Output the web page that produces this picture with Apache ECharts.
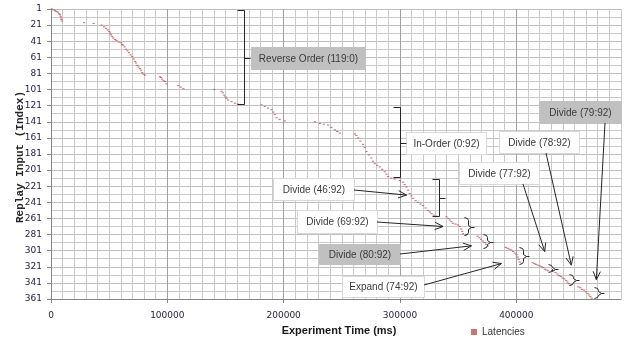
<!DOCTYPE html>
<html>
<head>
<meta charset="utf-8">
<script src="https://cdn.jsdelivr.net/npm/echarts@6/dist/echarts.min.js"></script>
<style>
  html, body { margin: 0; padding: 0; background: #ffffff; }
  #chart { width: 628px; height: 343px; }
</style>
</head>
<body>
<div id="chart"></div>
<script>
// Axis tick values
const xTickValues = [0, 100000, 200000, 300000, 400000];
const yTickValues = [1, 21, 41, 61, 81, 101, 121, 141, 161, 181, 201, 221, 241, 261, 281, 301, 321, 341, 361];

// Latency samples, [experiment time (ms), replay input index], grouped by phase
const segReverse = [
  [600, 1], [2100, 2], [3400, 3], [4600, 4], [5800, 5], [6900, 7], [7700, 8], [8200, 10], [8600, 12], [9000, 14], [9200, 16],
  [28400, 18], [36700, 19], [43500, 21], [45600, 23], [47200, 25], [48800, 27], [50100, 29], [50900, 31], [51500, 33],
  [52600, 35], [53500, 37], [55000, 39], [56400, 40], [58300, 42], [60100, 43], [61200, 45], [62100, 46], [63300, 48],
  [64400, 51], [65700, 53], [67000, 55], [68400, 58], [69900, 60], [71000, 63], [72200, 66], [73100, 68], [74100, 71],
  [75300, 73], [76500, 75], [77400, 77], [78400, 80], [79600, 82], [80800, 83],
  [93600, 85], [94500, 86], [95600, 88], [96800, 90], [97900, 91], [99100, 94],
  [109400, 96], [111600, 98], [113700, 100],
  [140300, 101], [146600, 103], [147700, 105], [148900, 108], [150000, 110], [150900, 112], [152300, 114],
  [155200, 116], [158100, 118], [160500, 119]
];
const segInOrder = [
  [181000, 120], [183800, 122], [186500, 124], [189600, 126], [191000, 129], [192400, 132], [193900, 136],
  [196500, 138], [201000, 140],
  [226800, 141], [231100, 143], [234600, 144], [238200, 145], [241000, 148], [244000, 151], [246000, 153], [248300, 155],
  [261200, 156], [262500, 158], [264000, 161], [266000, 165], [268300, 169], [269800, 173], [271200, 178],
  [273300, 182], [275400, 186], [276800, 190], [278300, 193], [280400, 195], [282600, 197], [284700, 200],
  [286900, 203], [288300, 206], [289800, 209], [292600, 211], [295500, 212]
];
const segDivide46 = [
  [299800, 214], [302700, 216], [304100, 219], [305500, 222], [307000, 226], [308400, 230], [309800, 233],
  [311300, 236], [313400, 239], [315600, 241], [317700, 243], [319900, 245], [322000, 248], [324100, 251],
  [325600, 253], [327100, 255], [329000, 257], [331000, 258]
];
const segDivide69 = [
  [340000, 259], [341500, 261], [342800, 263], [344200, 265], [345600, 267], [347700, 268], [349900, 269],
  [351400, 271], [352800, 274], [353500, 277], [354200, 280], [356500, 282]
];
const segDivide80 = [
  [366800, 283], [368300, 285], [369700, 287], [371200, 289], [372600, 291], [374000, 293], [375400, 295]
];
const segExpand74 = [
  [390900, 297], [392400, 298], [393900, 299], [395600, 300], [397200, 302], [398700, 304], [400200, 306],
  [401300, 309], [402000, 312], [402900, 315]
];
const segDivide77 = [
  [414000, 316], [415600, 317], [416900, 318], [418500, 319], [420200, 320], [421800, 321], [423200, 322],
  [424600, 324], [426000, 325], [427300, 326]
];
const segDivide78 = [
  [433700, 328], [435300, 330], [436700, 332], [438300, 333], [439700, 335], [441300, 336], [442900, 338],
  [444000, 340], [445100, 342], [446400, 344]
];
const segDivide79 = [
  [453300, 346], [455000, 347], [456500, 349], [458300, 350], [459800, 352], [461300, 354], [462500, 356],
  [463700, 358], [464800, 360]
];

// Phase brackets: time of the bracket spine and the index range it spans
const brackets = [
  { t: 166100, from: 2, to: 119, kind: 'square' },
  { t: 299800, from: 123, to: 210, kind: 'square' },
  { t: 333300, from: 212, to: 258, kind: 'square' },
  { t: 358800, from: 259, to: 282, kind: 'curly' },
  { t: 374900, from: 280, to: 298, kind: 'curly' },
  { t: 406000, from: 296, to: 317, kind: 'curly' },
  { t: 430700, from: 317, to: 328, kind: 'curly' },
  { t: 449000, from: 330, to: 344, kind: 'curly' },
  { t: 470500, from: 346, to: 360, kind: 'curly' }
];

// Phase callouts: box (pixels), arrow tail (pixels) and arrow tip (time, index)
const callouts = [
  { text: 'Reverse Order (119:0)', box: [251, 47, 114, 22], fill: '#c0c0c0' },
  { text: 'In-Order (0:92)', box: [406, 132, 80, 22], fill: '#ffffff' },
  { text: 'Divide (46:92)', box: [273, 178, 81, 22], fill: '#ffffff', tail: [354, 190], tip: [305600, 232] },
  { text: 'Divide (69:92)', box: [297, 210, 80, 23], fill: '#ffffff', tail: [377, 222], tip: [337000, 271] },
  { text: 'Divide (80:92)', box: [319, 244, 81, 20], fill: '#c0c0c0', tail: [400, 254], tip: [361400, 295] },
  { text: 'Expand (74:92)', box: [342, 276, 82, 21], fill: '#ffffff', tail: [424, 285], tip: [387200, 317] },
  { text: 'Divide (77:92)', box: [459, 162, 80, 22], fill: '#ffffff', tail: [523, 184], tip: [424400, 302] },
  { text: 'Divide (78:92)', box: [499, 131, 80, 22], fill: '#ffffff', tail: [546, 153], tip: [447300, 319] },
  { text: 'Divide (79:92)', box: [539, 101, 82, 22], fill: '#c0c0c0', tail: [605, 123], tip: [468800, 337] }
];

const allPoints = [].concat(segReverse, segInOrder, segDivide46, segDivide69, segDivide80,
  segExpand74, segDivide77, segDivide78, segDivide79);

const chart = echarts.init(document.getElementById('chart'), null, { renderer: 'canvas' });

const labelColor = '#1e1e3c';
const axisLineColor = '#868686';

chart.setOption({
  animation: false,
  backgroundColor: '#ffffff',
  grid: { left: 51, right: 7, top: 9, bottom: 44, containLabel: false },
  legend: {
    left: 471, top: 327, padding: 0,
    itemWidth: 6, itemHeight: 6, icon: 'rect',
    textStyle: { fontFamily: 'Liberation Sans', fontSize: 10, color: '#333333' },
    data: ['Latencies']
  },
  xAxis: [
    {
      // fine 10 000 ms grid
      type: 'value', position: 'bottom', min: 0, max: 490000, interval: 10000,
      axisLine: { show: false }, axisTick: { show: false }, axisLabel: { show: false },
      splitLine: { show: true, lineStyle: { color: '#c9c9c9', width: 1 } }
    },
    {
      type: 'value', position: 'bottom', min: 0, max: 490000, interval: 100000,
      axisLine: { show: true, onZero: false, lineStyle: { color: axisLineColor } },
      axisTick: { show: true, length: 4, lineStyle: { color: axisLineColor }, customValues: xTickValues },
      axisLabel: {
        margin: 12, color: labelColor, fontFamily: 'DejaVu Sans', fontSize: 9,
        customValues: xTickValues, formatter: v => String(v)
      },
      splitLine: { show: true, lineStyle: { color: '#a0a0a0', width: 1 } }
    }
  ],
  yAxis: {
    type: 'value', inverse: true, min: 1, max: 361, interval: 20,
    axisLine: { show: true, onZero: false, lineStyle: { color: axisLineColor } },
    axisTick: { show: true, length: 4, lineStyle: { color: axisLineColor }, customValues: yTickValues },
    axisLabel: { margin: 9, color: labelColor, fontFamily: 'DejaVu Sans', fontSize: 9, customValues: yTickValues },
    splitLine: { show: true, lineStyle: { color: '#bebebe', width: 1 } },
    minorTick: { show: false, splitNumber: 2 },
    minorSplitLine: { show: true, lineStyle: { color: '#c9c9c9', width: 1 } }
  },
  series: [{
    name: 'Latencies',
    type: 'scatter',
    xAxisIndex: 1,
    yAxisIndex: 0,
    symbol: 'rect',
    symbolSize: [2.2, 1.1],
    itemStyle: { color: '#c0504d' },
    data: allPoints
  }]
});

// Annotation layer: brackets, callout boxes, arrows and axis titles
function px(t, idx) {
  return chart.convertToPixel({ seriesIndex: 0 }, [t, idx]);
}
const crisp = v => Math.round(v) + 0.5;
const ink = '#262626';
const graphics = [];

brackets.forEach(b => {
  const top = px(b.t, b.from), bot = px(b.t, b.to);
  const x = crisp(top[0]);
  const y0 = crisp(top[1]), y1 = crisp(bot[1]);
  const ym = crisp((y0 + y1) / 2);
  if (b.kind === 'square') {
    graphics.push({
      type: 'polyline', z: 20,
      shape: { points: [[x - 7, y0], [x, y0], [x, y1], [x - 7, y1]] },
      style: { stroke: ink, lineWidth: 1, fill: null }
    });
    graphics.push({
      type: 'line', z: 20,
      shape: { x1: x, y1: ym, x2: x + 6, y2: ym },
      style: { stroke: ink, lineWidth: 1 }
    });
  } else {
    graphics.push({
      type: 'polyline', z: 20,
      shape: { points: [[x - 4, y0], [x - 1, y0 + 1], [x, y0 + 3], [x, ym - 2], [x + 3, ym], [x, ym + 2], [x, y1 - 3], [x - 1, y1 - 1], [x - 4, y1]] },
      style: { stroke: ink, lineWidth: 1, fill: null }
    });
    graphics.push({
      type: 'line', z: 20,
      shape: { x1: x + 3, y1: ym, x2: x + 6, y2: ym },
      style: { stroke: ink, lineWidth: 1 }
    });
  }
});

callouts.forEach(c => {
  const [bx, by, bw, bh] = c.box;
  graphics.push({
    type: 'rect', z: 18,
    shape: { x: bx + 0.5, y: by + 0.5, width: bw, height: bh },
    style: { fill: c.fill, stroke: c.fill === '#ffffff' ? '#d9d9d9' : c.fill, lineWidth: 1 }
  });
  graphics.push({
    type: 'text', z: 19,
    style: {
      text: c.text, x: bx + bw / 2 + 0.5, y: by + bh / 2 + 1,
      align: 'center', verticalAlign: 'middle',
      font: '10px "Liberation Sans"', fill: '#3a3a3a'
    }
  });
  if (c.tip) {
    const [tx, ty] = px(c.tip[0], c.tip[1]);
    const [sx, sy] = c.tail;
    const ang = Math.atan2(ty - sy, tx - sx);
    const len = 9, spread = 0.42;
    graphics.push({
      type: 'line', z: 20,
      shape: { x1: sx, y1: sy, x2: tx, y2: ty },
      style: { stroke: ink, lineWidth: 1 }
    });
    graphics.push({
      type: 'polyline', z: 20,
      shape: {
        points: [
          [tx - len * Math.cos(ang - spread), ty - len * Math.sin(ang - spread)],
          [tx, ty],
          [tx - len * Math.cos(ang + spread), ty - len * Math.sin(ang + spread)]
        ]
      },
      style: { stroke: ink, lineWidth: 1, fill: null }
    });
  }
});

graphics.push({
  type: 'text', z: 20, x: 20, y: 157, rotation: Math.PI / 2,
  style: {
    text: 'Replay Input (Index)', x: 0, y: 0, align: 'center', verticalAlign: 'middle',
    font: 'bold 11px "Liberation Mono"', fill: '#262626'
  }
});
graphics.push({
  type: 'text', z: 20,
  style: {
    text: 'Experiment Time (ms)', x: 339, y: 331, align: 'center', verticalAlign: 'middle',
    font: 'bold 11px "Liberation Sans"', fill: '#1a1a1a'
  }
});

chart.setOption({ graphic: { elements: graphics } });
</script>
</body>
</html>
